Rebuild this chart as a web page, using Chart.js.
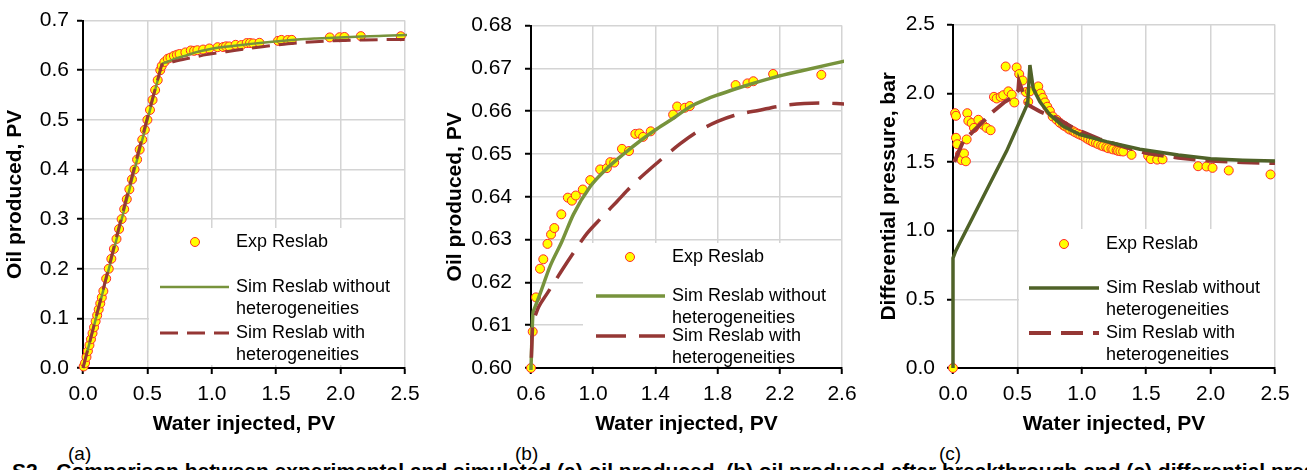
<!DOCTYPE html>
<html>
<head>
<meta charset="utf-8">
<script src="https://cdn.jsdelivr.net/npm/chart.js@4.4.1/dist/chart.umd.min.js"></script>
<style>
  body { margin: 0; width: 1307px; height: 470px; overflow: hidden; background: #fff; position: relative;
         font-family: "Liberation Sans", Arial, sans-serif; color: #000; }
  .panel { position: absolute; top: 0; }
  .tag { position: absolute; top: 443px; font-size: 19px; line-height: 22px; }
  .caption { position: absolute; left: 12px; top: 460px; font-size: 21px; font-weight: bold; line-height: 21px; white-space: nowrap; }
</style>
</head>
<body>
<div class="panel" style="left:0"><canvas id="chartA" width="440" height="440"></canvas></div>
<div class="panel" style="left:440px"><canvas id="chartB" width="435" height="440"></canvas></div>
<div class="panel" style="left:875px"><canvas id="chartC" width="432" height="440"></canvas></div>
<div class="tag" style="left:68px">(a)</div>
<div class="tag" style="left:515px">(b)</div>
<div class="tag" style="left:939px">(c)</div>
<div class="caption">S2 - Comparison between experimental and simulated (a) oil produced, (b) oil produced after breakthrough and (c) differential pressure of waterflooding with and without SO heterogeneities</div>

<script>
// Experimental oil recovery (Reslab core flood)
const expWater = [0.005, 0.016, 0.027, 0.038, 0.050, 0.062, 0.074, 0.086, 0.098, 0.110, 0.122, 0.134, 0.146, 0.158,
  0.180, 0.200, 0.220, 0.240, 0.260, 0.280, 0.300, 0.320, 0.340, 0.360, 0.380, 0.400, 0.420, 0.440, 0.460, 0.480,
  0.500, 0.520, 0.540, 0.560, 0.580, 0.600,
  0.611, 0.632, 0.658, 0.679, 0.706, 0.729, 0.750, 0.795, 0.837, 0.863, 0.888, 0.933, 0.981, 1.045, 1.088, 1.110,
  1.135, 1.185, 1.230, 1.271, 1.297, 1.321, 1.370, 1.514, 1.540, 1.589, 1.621, 1.916, 1.992, 2.030, 2.157, 2.467];
const expOil = [0.003, 0.010, 0.022, 0.034, 0.046, 0.058, 0.070, 0.082, 0.094, 0.106, 0.118, 0.130, 0.142, 0.155,
  0.180, 0.200, 0.220, 0.240, 0.260, 0.280, 0.300, 0.320, 0.340, 0.360, 0.380, 0.400, 0.420, 0.440, 0.460, 0.480,
  0.500, 0.520, 0.540, 0.560, 0.580, 0.600,
  0.6085, 0.6165, 0.6232, 0.6254, 0.6290, 0.6312, 0.6327, 0.6359, 0.6398, 0.6391, 0.6403, 0.6417, 0.6439, 0.6464,
  0.6467, 0.6481, 0.6480, 0.6512, 0.6507, 0.6547, 0.6548, 0.6540, 0.6553, 0.6592, 0.6611, 0.6608, 0.6612, 0.6661,
  0.6665, 0.6670, 0.6687, 0.6685];

// Simulation without heterogeneities
const simWater = [0.000, 0.600, 0.612, 0.621, 0.658, 0.723, 0.798, 0.873, 0.981, 1.088, 1.196, 1.303, 1.411, 1.518,
  1.626, 1.734, 1.809, 1.948, 2.163, 2.335, 2.615];
const simOil = [0.000, 0.600, 0.6125, 0.6138, 0.6173, 0.6238, 0.6295, 0.6359, 0.6424, 0.6466, 0.6500, 0.6531, 0.6559,
  0.6584, 0.6611, 0.6629, 0.6639, 0.6656, 0.6679, 0.6694, 0.6717];

// Simulation with heterogeneities
const hetWater = [0.000, 0.600, 0.612, 0.622, 0.650, 0.700, 0.755, 0.800, 0.880, 0.959, 1.050, 1.150, 1.260, 1.420,
  1.560, 1.660, 1.800, 1.905, 2.077, 2.185, 2.357, 2.464, 2.615];
const hetOil = [0.000, 0.600, 0.6105, 0.6118, 0.6143, 0.6172, 0.6203, 0.6229, 0.6273, 0.6314, 0.6350, 0.6388, 0.6430,
  0.6482, 0.6524, 0.6550, 0.6576, 0.6590, 0.6603, 0.6611, 0.6618, 0.6619, 0.6617];

// Differential pressure, bar
const expWaterDp = [0.000, 0.016, 0.023, 0.023, 0.033, 0.054, 0.067, 0.085, 0.100, 0.106, 0.111, 0.119, 0.145, 0.163,
  0.197, 0.230, 0.261, 0.292, 0.318, 0.339, 0.370, 0.390, 0.409, 0.430, 0.456, 0.476, 0.494, 0.514, 0.541, 0.566,
  0.584, 0.597, 0.662, 0.680, 0.696, 0.714, 0.732, 0.752, 0.774, 0.805, 0.830, 0.856, 0.870, 0.895, 0.910, 0.934,
  0.950, 0.972, 0.990, 1.011, 1.030, 1.050, 1.070, 1.088, 1.110, 1.127, 1.150, 1.166, 1.190, 1.205, 1.230, 1.244,
  1.270, 1.282, 1.300, 1.321, 1.386, 1.515, 1.536, 1.585, 1.627, 1.903, 1.968, 2.015, 2.141, 2.465];
const expDp = [0.000, 1.855, 1.836, 1.676, 1.629, 1.557, 1.514, 1.562, 1.505, 1.664, 1.855, 1.800, 1.783, 1.748,
  1.807, 1.771, 1.748, 1.731, 1.974, 1.962, 1.974, 1.986, 2.195, 2.014, 1.990, 1.933, 2.188, 2.140, 2.093, 2.009,
  1.938, 2.014, 2.050, 1.998, 1.966, 1.933, 1.902, 1.871, 1.831, 1.807, 1.785, 1.767, 1.760, 1.743, 1.735, 1.724,
  1.715, 1.705, 1.697, 1.688, 1.676, 1.664, 1.654, 1.645, 1.637, 1.629, 1.620, 1.614, 1.607, 1.600, 1.596, 1.591,
  1.585, 1.581, 1.578, 1.576, 1.552, 1.545, 1.521, 1.517, 1.519, 1.469, 1.467, 1.457, 1.438, 1.409];

const simWaterDp = [0.000, 0.000, 0.020, 0.054, 0.158, 0.287, 0.417, 0.580, 0.597, 0.623, 0.675, 0.752, 0.856, 0.985,
  1.192, 1.451, 1.750, 2.000, 2.250, 2.500];
const simDp = [0.000, 0.800, 0.850, 0.914, 1.105, 1.343, 1.581, 1.926, 2.205, 2.034, 1.938, 1.843, 1.759, 1.700,
  1.648, 1.593, 1.550, 1.524, 1.513, 1.507];

const hetWaterDp = [0.010, 0.080, 0.132, 0.235, 0.287, 0.403, 0.455, 0.507, 0.512, 0.576, 0.675, 0.805, 0.934, 1.140,
  1.348, 1.500, 1.750, 2.000, 2.250, 2.500];
const hetDp = [1.500, 1.652, 1.700, 1.795, 1.848, 1.938, 1.966, 2.021, 2.086, 1.919, 1.867, 1.817, 1.748, 1.664,
  1.605, 1.565, 1.530, 1.508, 1.498, 1.492];

const legendLabels = [['Exp Reslab'], ['Sim Reslab without', 'heterogeneities'], ['Sim Reslab with', 'heterogeneities']];

const FONT = '"Liberation Sans", Arial, sans-serif';
const YELLOW = '#FFFF00', MARKER_EDGE = '#FF2A2A';
const OLIVE = '#77933C', DARK_OLIVE = '#4F6228', DARK_RED = '#953735';

function pairs(xs, ys) {
    return xs.map((x, i) => ({ x: x, y: ys[i] }));
}

function expSet(xs, ys) {
    return {
        label: legendLabels[0][0], data: pairs(xs, ys), order: 2,
        pointRadius: 4.5, pointBackgroundColor: YELLOW, pointBorderColor: MARKER_EDGE, pointBorderWidth: 1,
        showLine: false, clip: 8
    };
}

function lineSet(label, xs, ys, color, width, dash, order, smooth) {
    return {
        label: label, data: pairs(xs, ys), order: order,
        showLine: true, pointRadius: 0, borderColor: color, borderWidth: width, borderDash: dash,
        borderCapStyle: 'butt', cubicInterpolationMode: smooth ? 'monotone' : 'default', tension: 0, clip: 2
    };
}

function scale(min, max, step, digits, title, size, labelPad, titlePad) {
    return {
        type: 'linear', min: min, max: max,
        ticks: { stepSize: step, color: '#000', padding: labelPad, font: { family: FONT, size: 21 },
                 callback: v => v.toFixed(digits) },
        grid: { color: '#D4D4D4', lineWidth: 1.5, tickLength: 6, tickColor: '#000', tickWidth: 2 },
        border: { color: '#000', width: 2 },
        title: { display: true, text: title, color: '#000', padding: titlePad,
                 font: { family: FONT, size: 21, weight: 'bold' } },
        afterFit: s => { if (s.isHorizontal()) s.height = size; else s.width = size; }
    };
}

// Legend drawn inside the plot area, over a white box
const insideLegend = {
    id: 'insideLegend',
    afterDatasetsDraw(chart, args, opts) {
        const ctx = chart.ctx;
        const b = opts.box;
        ctx.save();
        ctx.fillStyle = '#fff';
        ctx.fillRect(b.x, b.y, b.w, b.h);
        ctx.font = '18px ' + FONT;
        ctx.textBaseline = 'middle';
        opts.rows.forEach((row, i) => {
            const ds = chart.data.datasets.find(d => d.label === legendLabels[i].join(' '));
            if (i === 0) {
                ctx.beginPath();
                ctx.arc(opts.markerX, row, ds.pointRadius, 0, Math.PI * 2);
                ctx.fillStyle = ds.pointBackgroundColor;
                ctx.fill();
                ctx.lineWidth = ds.pointBorderWidth;
                ctx.strokeStyle = ds.pointBorderColor;
                ctx.stroke();
            } else {
                ctx.beginPath();
                ctx.setLineDash(ds.borderDash || []);
                ctx.lineWidth = ds.borderWidth;
                ctx.strokeStyle = ds.borderColor;
                ctx.moveTo(opts.lineX[0], row);
                ctx.lineTo(opts.lineX[1], row);
                ctx.stroke();
                ctx.setLineDash([]);
            }
            ctx.fillStyle = '#000';
            legendLabels[i].forEach((t, k) => ctx.fillText(t, opts.textX, row + k * 22));
        });
        ctx.restore();
    }
};

function makeChart(id, datasets, xScale, yScale, legend) {
    return new Chart(document.getElementById(id), {
        type: 'scatter',
        data: { datasets: datasets },
        options: {
            responsive: false, animation: false, events: [],
            layout: { padding: { left: 0, top: 17, right: legend.right, bottom: 0 } },
            scales: { x: xScale, y: yScale },
            plugins: { legend: { display: false }, tooltip: { enabled: false }, insideLegend: legend }
        },
        plugins: [insideLegend]
    });
}

const withoutLabel = legendLabels[1].join(' ');
const withLabel = legendLabels[2].join(' ');

// (a) oil produced, full range
makeChart('chartA', [
    expSet(expWater, expOil),
    lineSet(withoutLabel, simWater, simOil, OLIVE, 2.5, [], 1, true),
    lineSet(withLabel, hetWater, hetOil, DARK_RED, 3, [18, 9], 0, true)
], scale(0, 2.5, 0.5, 1, 'Water injected, PV', 72, 8, { bottom: 3 }),
   scale(0, 0.7, 0.1, 1, 'Oil produced, PV', 83, 8, { top: 3 }),
   { right: 35, box: { x: 149, y: 228, w: 255, h: 137 }, markerX: 195, lineX: [160, 229], textX: 236, rows: [242, 287, 333] });

// (b) oil produced after breakthrough
makeChart('chartB', [
    expSet(expWater, expOil),
    lineSet(withoutLabel, simWater, simOil, OLIVE, 3.5, [], 1, true),
    lineSet(withLabel, hetWater, hetOil, DARK_RED, 3.5, [30, 13], 0, true)
], scale(0.6, 2.6, 0.4, 1, 'Water injected, PV', 72, 8, { bottom: 3 }),
   scale(0.6, 0.68, 0.01, 2, 'Oil produced, PV', 91, 13, { top: 3 }),
   { right: 33, box: { x: 143, y: 243, w: 258, h: 123 }, markerX: 190, lineX: [156, 225], textX: 232, rows: [257, 296, 336] });

// (c) differential pressure
makeChart('chartC', [
    expSet(expWaterDp, expDp),
    lineSet(withoutLabel, simWaterDp, simDp, DARK_OLIVE, 3.5, [], 0, false),
    lineSet(withLabel, hetWaterDp, hetDp, DARK_RED, 4, [22, 10], 1, false)
], scale(0, 2.5, 0.5, 1, 'Water injected, PV', 72, 8, { bottom: 3 }),
   scale(0, 2.5, 0.5, 1, 'Differential pressure, bar', 78, 12, { top: 2 }),
   { right: 32, box: { x: 144, y: 229, w: 255, h: 137 }, markerX: 189, lineX: [154, 224], textX: 231, rows: [244, 288, 333] });
</script>
</body>
</html>
